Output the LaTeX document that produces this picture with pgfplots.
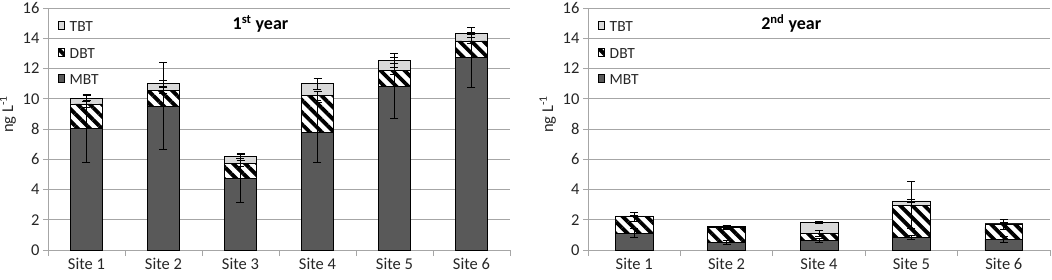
\documentclass[border=0pt]{standalone}
\usepackage{pgfplots}
\pgfplotsset{compat=1.18}
\usepackage{fontspec}
\setmainfont{Carlito}
\usetikzlibrary{patterns.meta}

\definecolor{mbt}{HTML}{595959}
\definecolor{tbt}{HTML}{D9D9D9}
\definecolor{gridc}{HTML}{A6A6A6}

\pgfplotsset{
  chartbase/.style={
    scale only axis, width=462pt, height=242pt,
    ymin=0, ymax=16, ytick={0,2,...,16},
    axis x line*=bottom, axis y line*=left,
    axis line style={gridc, line width=0.8pt},
    tick align=outside, major tick length=5pt, minor tick length=6pt,
    tick style={gridc, line width=0.8pt},
    major x tick style={draw=none},
    ymajorgrids, grid style={gridc, line width=0.8pt},
    /pgf/number format/assume math mode=true,
    tick label style={font=\fontsize{16.5}{19}\selectfont, color=black!85},
    label style={font=\fontsize{16.5}{19}\selectfont, color=black!85},
    ylabel={ng L\textsuperscript{-1}},
    every axis y label/.append style={at={(ticklabel cs:0.56)}},
  },
  errbase/.style={
    scale only axis, width=462pt, height=242pt,
    ymin=0, ymax=16, hide axis,
  },
  errstyle/.style={
    draw=none, mark=none, forget plot,
    error bars/.cd, y dir=both, y explicit, error mark=-,
    error bar style={draw=black, line width=0.9pt},
    error mark options={draw=black, rotate=90, mark size=4pt, line width=0.9pt},
  },
  mbtbar/.style={fill=mbt, draw=black, line width=0.6pt},
  dbtbar/.style={fill=white, draw=black, line width=0.6pt,
    postaction={pattern={Lines[angle=-45, distance=8.5pt, line width=3.8pt]}, pattern color=black}},
  tbtbar/.style={fill=tbt, draw=black, line width=0.6pt},
  legbase/.style={
    reverse legend,
    legend style={at={(0.015,0.96)}, anchor=north west, draw=none, fill=none,
      font=\fontsize{15.5}{18}\selectfont, text=black!85, row sep=11pt, cells={anchor=west},
      /tikz/every odd column/.append style={column sep=3pt}},
    legend image code/.code={\draw[##1] (0pt,-4.5pt) rectangle (9pt,4.5pt);},
  },
}

\begin{document}
\begin{tikzpicture}
\useasboundingbox (-48pt,-29pt) rectangle (1004pt,250pt);

% ---- 1st year ----
\begin{axis}[chartbase, legbase,
  ybar stacked, bar width=0.42,
  xmin=-0.5, xmax=5.5,
  xtick={0,...,5},
  xticklabels={Site 1,Site 2,Site 3,Site 4,Site 5,Site 6},
  minor xtick={-0.5,0.5,...,5.5},
]
\addplot[mbtbar] coordinates {(0,8.04) (1,9.52) (2,4.74) (3,7.75) (4,10.84) (5,12.74)};
\addlegendentry{MBT}
\addplot[dbtbar] coordinates {(0,1.62) (1,1.05) (2,0.99) (3,2.45) (4,1.01) (5,1.09)};
\addlegendentry{DBT}
\addplot[tbtbar] coordinates {(0,0.37) (1,0.43) (2,0.48) (3,0.80) (4,0.71) (5,0.49)};
\addlegendentry{TBT}
\node[font=\fontsize{18}{21}\selectfont\bfseries] at (rel axis cs:0.46,0.935) {1\textsuperscript{st} year};
\end{axis}
\begin{axis}[errbase, xmin=-0.5, xmax=5.5]
% MBT error bars
\addplot[errstyle] table[x=x, y=y, y error=e] {
x y e
0 8.04 2.24
1 9.52 2.86
2 4.74 1.61
3 7.75 1.98
4 10.84 2.14
5 12.74 1.98
};
% DBT error bars
\addplot[errstyle] table[x=x, y=y, y error=e] {
x y e
0 9.66 0.23
1 10.57 0.25
2 5.73 0.20
3 10.20 0.30
4 11.85 0.25
5 13.83 0.20
};
% TBT error bars
\addplot[errstyle] table[x=x, y=y, y error=e] {
x y e
0 10.03 0.20
1 11.00 0.24
2 6.21 0.18
3 11.00 0.37
4 12.56 0.20
5 14.32 0.07
};
\end{axis}

% ---- 2nd year ----
\begin{axis}[at={(540pt,0pt)}, chartbase, legbase,
  ybar stacked, bar width=0.41,
  xmin=-0.5, xmax=4.5,
  xtick={0,...,4},
  xticklabels={Site 1,Site 2,Site 4,Site 5,Site 6},
  minor xtick={-0.5,0.5,...,4.5},
]
\addplot[mbtbar] coordinates {(0,1.10) (1,0.50) (2,0.62) (3,0.84) (4,0.70)};
\addlegendentry{MBT}
\addplot[dbtbar] coordinates {(0,1.10) (1,1.00) (2,0.48) (3,2.13) (4,1.02)};
\addlegendentry{DBT}
\addplot[tbtbar] coordinates {(0,0.05) (1,0.05) (2,0.73) (3,0.27) (4,0.06)};
\addlegendentry{TBT}
\node[font=\fontsize{18}{21}\selectfont\bfseries] at (rel axis cs:0.44,0.935) {2\textsuperscript{nd} year};
\end{axis}
\begin{axis}[at={(540pt,0pt)}, errbase, xmin=-0.5, xmax=4.5]
\addplot[errstyle] table[x=x, y=y, y error=e] {
x y e
0 1.10 0.30
1 0.50 0.10
2 0.62 0.14
3 0.84 0.14
4 0.70 0.20
};
\addplot[errstyle] table[x=x, y=y, y error=e] {
x y e
0 2.20 0.28
1 1.50 0.15
2 1.10 0.18
3 2.97 1.55
4 1.72 0.33
};
\addplot[errstyle] table[x=x, y=y, y error=e] {
x y e
0 2.25 0.05
1 1.55 0.10
2 1.83 0.05
3 3.24 0.10
4 1.78 0.05
};
\end{axis}
\end{tikzpicture}
\end{document}
